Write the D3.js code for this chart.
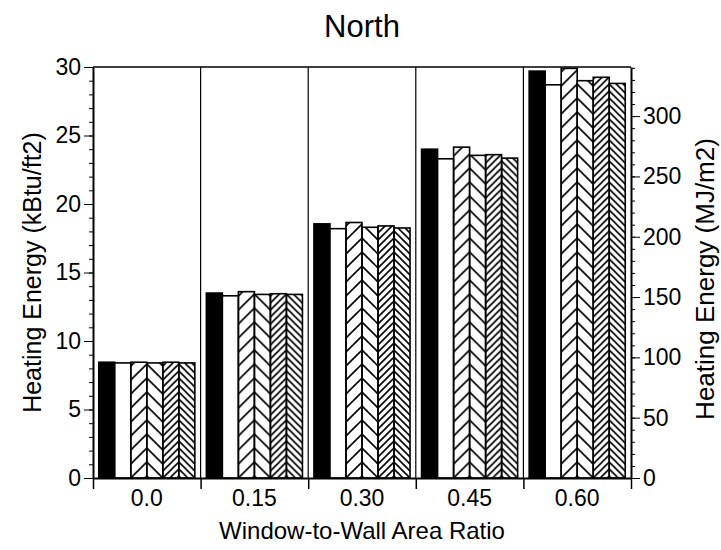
<!DOCTYPE html>
<html>
<head>
<meta charset="utf-8">
<script src="https://cdn.jsdelivr.net/npm/d3@7"></script>
<style>
  body { margin: 0; background: #fff; }
  text { font-family: "Liberation Sans", Arial, Helvetica, sans-serif; fill: #000; }
</style>
</head>
<body>
<div id="chart"></div>
<script>
// window-to-wall ratios (groups)
var ratios = ['0.0', '0.15', '0.30', '0.45', '0.60'];
var series = ['A', 'B', 'C', 'D', 'E', 'F'];

// heating energy, kBtu/ft2, one array per bar in each group
var seriesA = [8.45, 13.5, 18.55, 24.0, 29.7];
var seriesB = [8.4, 13.3, 18.2, 23.3, 28.7];
var seriesC = [8.45, 13.6, 18.65, 24.15, 29.9];
var seriesD = [8.4, 13.4, 18.3, 23.55, 29.0];
var seriesE = [8.45, 13.45, 18.4, 23.6, 29.25];
var seriesF = [8.4, 13.4, 18.25, 23.35, 28.8];

var leftTicks = [0, 5, 10, 15, 20, 25, 30];
var rightTicks = [0, 50, 100, 150, 200, 250, 300];
var MJ_PER_KBTU = 11.357; // kBtu/ft2 -> MJ/m2

var values = { A: seriesA, B: seriesB, C: seriesC, D: seriesD, E: seriesE, F: seriesF };

const W = 721, H = 550;
const mLeft = 93, mRight = 631, mTop = 67, mBottom = 478;

var svg = d3.select('#chart')
    .append('svg')
    .attr('width', W)
    .attr('height', H);

var x0 = d3.scaleBand().domain(ratios).range([mLeft, mRight]);
var x1 = d3.scaleBand().domain(series).range([0, x0.bandwidth()]).paddingOuter(0.36);
var y = d3.scaleLinear().domain([0, 30]).range([mBottom, mTop]);
var yR = d3.scaleLinear().domain([0, 30 * MJ_PER_KBTU]).range([mBottom, mTop]);
var w = x1.bandwidth();

// hatch patterns (user space so the chevrons meet at the shared edge)
var defs = svg.append('defs');
function hatch(id, P, dir) {
    var p = defs.append('pattern')
        .attr('id', id)
        .attr('patternUnits', 'userSpaceOnUse')
        .attr('width', P).attr('height', P);
    var d = dir === 'up'
        ? 'M-1,1 l2,-2 M0,' + P + ' l' + P + ',' + (-P) + ' M' + (P - 1) + ',' + (P + 1) + ' l2,-2'
        : 'M-1,-1 l2,2 M0,0 l' + P + ',' + P + ' M' + (P - 1) + ',' + (P - 1) + ' l2,2 M-1,' + (P - 1) + ' l2,2 M' + (P - 1) + ',-1 l2,2';
    p.append('path').attr('d', d).attr('stroke', '#000').attr('stroke-width', 1.6).attr('fill', 'none');
}
hatch('wideUp', 14, 'up');
hatch('wideDown', 14, 'down');
hatch('denseUp', 7, 'up');
hatch('denseDown', 7, 'down');

var fills = { A: '#000', B: '#fff', C: 'url(#wideUp)', D: 'url(#wideDown)', E: 'url(#denseUp)', F: 'url(#denseDown)' };
// each hatched pair is drawn around its shared edge
var anchor = { A: 'A', B: 'B', C: 'D', D: 'D', E: 'F', F: 'F' };

// group dividers
svg.append('g')
    .selectAll('line')
    .data(ratios.slice(1))
    .enter()
    .append('line')
    .attr('x1', d => x0(d)).attr('x2', d => x0(d))
    .attr('y1', mTop).attr('y2', mBottom)
    .attr('stroke', '#000').attr('stroke-width', 1.2);

// top frame
svg.append('line')
    .attr('x1', mLeft).attr('x2', mRight)
    .attr('y1', mTop).attr('y2', mTop)
    .attr('stroke', '#000').attr('stroke-width', 1.5);

// bars
var cells = [];
ratios.forEach(function(r, i) {
    series.forEach(function(s) {
        cells.push({ ratio: r, key: s, value: values[s][i] });
    });
});

svg.append('g')
    .selectAll('g')
    .data(cells)
    .enter()
    .append('g')
    .attr('transform', d => 'translate(' + (x0(d.ratio) + x1(anchor[d.key])) + ',0)')
    .append('rect')
    .attr('x', d => x1(d.key) - x1(anchor[d.key]))
    .attr('y', d => y(d.value))
    .attr('width', w)
    .attr('height', d => mBottom - y(d.value))
    .attr('fill', d => fills[d.key])
    .attr('stroke', '#000')
    .attr('stroke-width', 1.6);

// left axis
svg.append('g')
    .attr('transform', 'translate(' + mLeft + ',0)')
    .call(d3.axisLeft(y).tickValues(d3.range(0, 31, 1)).tickSize(4).tickFormat(''))
    .call(g => g.select('.domain').remove());
var ax = svg.append('g')
    .attr('transform', 'translate(' + mLeft + ',0)')
    .call(d3.axisLeft(y).tickValues(leftTicks).tickSize(9).tickSizeOuter(0).tickPadding(3));
ax.select('.domain').attr('stroke-width', 2);
ax.selectAll('text').style('font-size', '23px');

// right axis
svg.append('g')
    .attr('transform', 'translate(' + mRight + ',0)')
    .call(d3.axisRight(yR).tickValues(d3.range(0, 341, 10)).tickSize(4).tickFormat(''))
    .call(g => g.select('.domain').remove());
var ar = svg.append('g')
    .attr('transform', 'translate(' + mRight + ',0)')
    .call(d3.axisRight(yR).tickValues(rightTicks).tickSize(9).tickSizeOuter(0).tickPadding(3));
ar.select('.domain').attr('stroke-width', 2);
ar.selectAll('text').style('font-size', '23px');

// bottom axis: ticks at group edges, labels centred
var xe = d3.scaleLinear().domain([0, ratios.length]).range([mLeft, mRight]);
var ab = svg.append('g')
    .attr('transform', 'translate(0,' + mBottom + ')')
    .call(d3.axisBottom(xe).ticks(ratios.length).tickSize(11).tickSizeOuter(0).tickFormat(''));
ab.select('.domain').attr('stroke-width', 2);
ab.selectAll('line').attr('stroke-width', 1.5);

svg.append('g')
    .attr('transform', 'translate(0,' + mBottom + ')')
    .call(d3.axisBottom(x0).tickSize(0).tickPadding(12))
    .call(g => g.select('.domain').remove())
    .selectAll('text').style('font-size', '23px');

// titles
svg.append('text')
    .text('North')
    .attr('x', (mLeft + mRight) / 2)
    .attr('y', 37)
    .attr('text-anchor', 'middle')
    .attr('font-size', 31);

svg.append('text')
    .text('Window-to-Wall Area Ratio')
    .attr('x', (mLeft + mRight) / 2)
    .attr('y', 539)
    .attr('text-anchor', 'middle')
    .attr('font-size', 24);

svg.append('text')
    .text('Heating Energy (kBtu/ft2)')
    .attr('transform', 'translate(41,' + (mTop + mBottom) / 2 + ') rotate(-90)')
    .attr('text-anchor', 'middle')
    .attr('font-size', 25);

svg.append('text')
    .text('Heating Energy (MJ/m2)')
    .attr('transform', 'translate(714,279) rotate(-90)')
    .attr('text-anchor', 'middle')
    .attr('font-size', 26);
</script>
</body>
</html>
